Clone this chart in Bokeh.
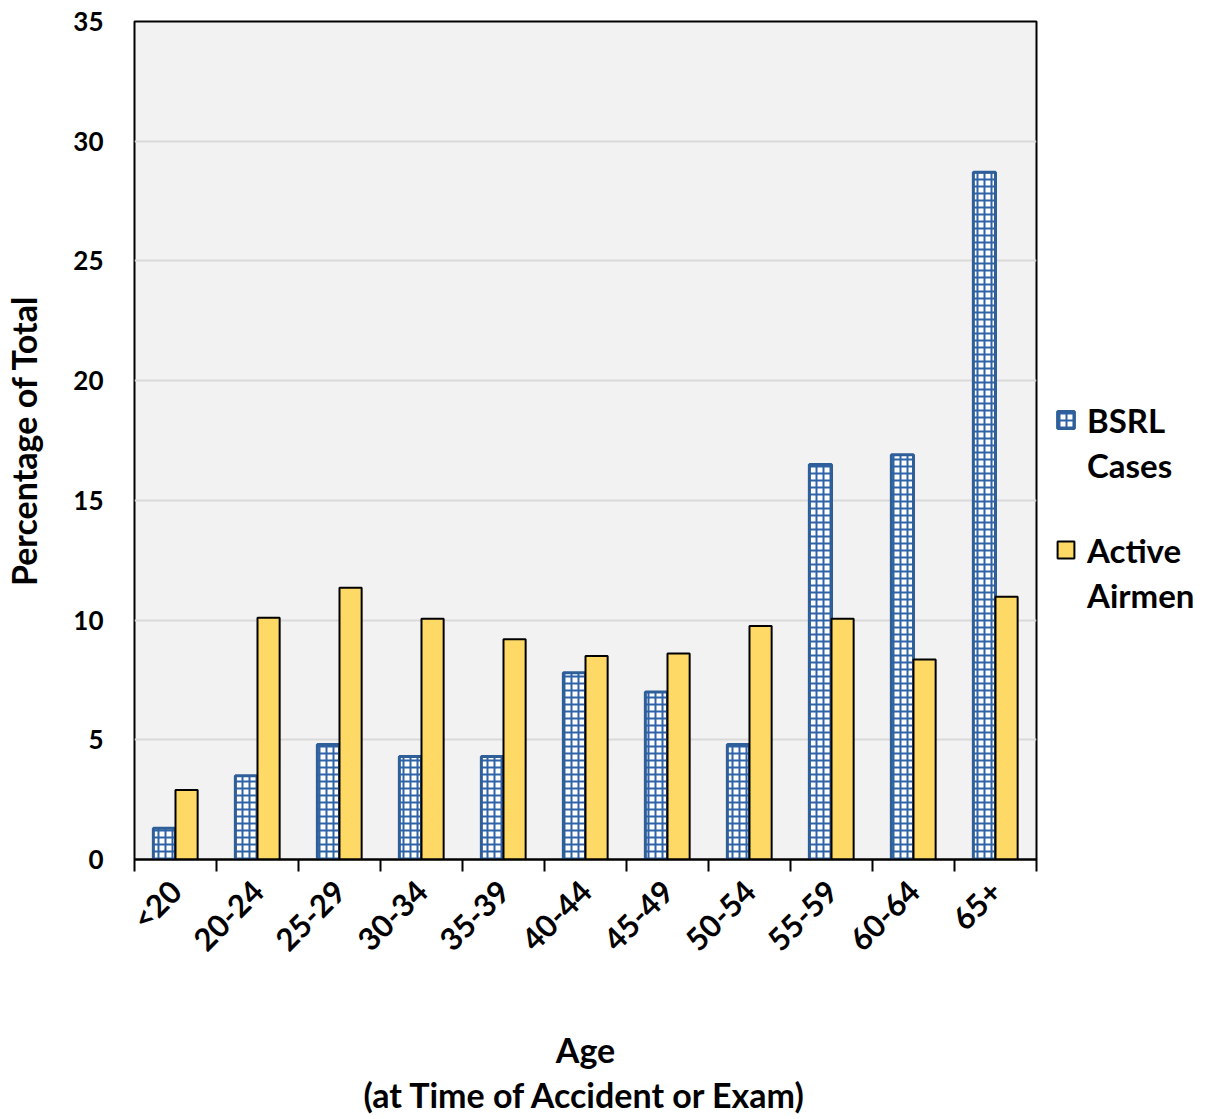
import math
from bokeh.plotting import figure
from bokeh.layouts import row
from bokeh.models import (ColumnDataSource, Range1d, LinearAxis, FixedTicker, Legend, LegendItem)
from bokeh.transform import dodge
from bokeh.embed import file_html
from bokeh.resources import INLINE

ages = ["<20", "20-24", "25-29", "30-34", "35-39", "40-44", "45-49", "50-54", "55-59", "60-64", "65+"]
bsrl_cases = [1.3, 3.5, 4.8, 4.3, 4.3, 7.8, 7.0, 4.8, 16.5, 16.9, 28.7]
active_airmen = [2.9, 10.1, 11.35, 10.05, 9.2, 8.5, 8.6, 9.75, 10.05, 8.35, 10.97]
y_ticks = [0, 5, 10, 15, 20, 25, 30, 35]
legend_lines_bsrl = ["BSRL", "Cases"]
legend_lines_active = ["Active", "Airmen"]

FONT = "Lato"
BLUE_LINE = "#2F5F98"
BLUE_HATCH = "#2E63A8"
YELLOW = "#FFD966"
H = 1117

n = len(ages)
centers = [i + 0.5 for i in range(n)]
bounds = list(range(n + 1))
src = ColumnDataSource(dict(xc=centers, age=ages, bsrl=bsrl_cases, active=active_airmen))

p = figure(width=1038, height=H, x_range=Range1d(0, n),
           y_range=Range1d(0, 35), output_backend="svg", toolbar_location=None,
           x_axis_location=None, y_axis_location="left")
p.min_border_left = 134
p.min_border_top = 21
p.min_border_right = 2
p.min_border_bottom = 10
p.background_fill_color = "#F2F2F2"
p.border_fill_color = "white"
p.outline_line_color = "black"
p.outline_line_width = 2

p.xgrid.visible = False
p.ygrid.ticker = FixedTicker(ticks=y_ticks)
p.ygrid.grid_line_color = "#D9D9D9"
p.ygrid.grid_line_width = 2

yax = p.yaxis[0]
yax.ticker = FixedTicker(ticks=y_ticks)
yax.axis_line_color = None
yax.major_tick_line_color = None
yax.major_tick_out = 0
yax.major_tick_in = 0
yax.minor_tick_line_color = None
yax.major_label_text_font = FONT
yax.major_label_text_font_style = "bold"
yax.major_label_text_font_size = "26px"
yax.major_label_text_color = "black"
yax.major_label_standoff = 31
yax.axis_label = "Percentage of Total"
yax.axis_label_text_font = FONT
yax.axis_label_text_font_style = "bold"
yax.axis_label_text_font_size = "34px"
yax.axis_label_text_color = "black"
yax.axis_label_standoff = 26

xax = LinearAxis(ticker=FixedTicker(ticks=centers, minor_ticks=bounds))
xax.major_label_overrides = {c: a for c, a in zip(centers, ages)}
xax.axis_line_color = "black"
xax.axis_line_width = 2
xax.major_tick_line_color = None
xax.major_tick_out = 12
xax.major_tick_in = 0
xax.minor_tick_line_color = "black"
xax.minor_tick_line_width = 2
xax.minor_tick_out = 12
xax.minor_tick_in = 0
xax.major_label_orientation = math.pi / 4
xax.major_label_text_font = FONT
xax.major_label_text_font_style = "bold"
xax.major_label_text_font_size = "31px"
xax.major_label_text_color = "black"
xax.major_label_standoff = 14
xax.axis_label = "Age\n(at Time of Accident or Exam)"
xax.axis_label_text_font = FONT
xax.axis_label_text_font_style = "bold"
xax.axis_label_text_font_size = "34px"
xax.axis_label_text_color = "black"
xax.axis_label_text_line_height = 1.08
xax.axis_label_standoff = 55
p.add_layout(xax, "below")

p.vbar(x=dodge("xc", -0.135), top="bsrl", width=0.27, source=src,
       fill_color="white", hatch_pattern="+", hatch_color=BLUE_HATCH, hatch_scale=7,
       hatch_weight=2, line_color=BLUE_LINE, line_width=3)
p.vbar(x=dodge("xc", 0.135), top="active", width=0.27, source=src,
       fill_color=YELLOW, line_color="black", line_width=2)

# legend panel (separate figure to the right of the chart; frames are aligned in the row)
lf = figure(width=172, height=H, x_range=Range1d(0, 1), y_range=Range1d(0, 1),
            output_backend="svg", toolbar_location=None,
            x_axis_location=None, y_axis_location=None)
lf.min_border = 0
lf.outline_line_color = None
lf.background_fill_color = "white"
lf.border_fill_color = "white"
lf.xgrid.visible = False
lf.ygrid.visible = False

# legend proxies: same data, hidden in this panel, only their legend swatches show
d1 = lf.vbar(x="xc", top="bsrl", width=0.27, source=src, fill_color="white",
             hatch_pattern="+", hatch_color=BLUE_HATCH, hatch_scale=7, hatch_weight=2,
             line_color=BLUE_LINE, line_width=3, visible=False)
d2 = lf.vbar(x="xc", top="active", width=0.27, source=src, fill_color=YELLOW,
             line_color="black", line_width=2, visible=False)
d0 = lf.vbar(x="xc", top="bsrl", width=0.27, source=src, fill_alpha=0, line_alpha=0,
             visible=False)


def make_legend(lines, rend, loc):
    lg = Legend(items=[LegendItem(label=lines[0], renderers=[rend]),
                       LegendItem(label=lines[1], renderers=[d0])],
                location=loc, orientation="vertical")
    lg.label_text_font = FONT
    lg.label_text_font_style = "bold"
    lg.label_text_font_size = "33px"
    lg.label_text_color = "black"
    lg.label_text_baseline = "middle"
    lg.glyph_width = 21
    lg.glyph_height = 21
    lg.label_height = 45
    lg.label_standoff = 11
    lg.spacing = 0
    lg.padding = 0
    lg.margin = 0
    lg.border_line_color = None
    lg.background_fill_alpha = 0
    lg.inactive_fill_alpha = 0
    lg.click_policy = "none"
    return lg


lf.add_layout(make_legend(legend_lines_bsrl, d1, (17, 372)), "center")
lf.add_layout(make_legend(legend_lines_active, d2, (17, 242)), "center")

layout = row(p, lf)
open("out.html", "w").write(file_html(layout, INLINE))
